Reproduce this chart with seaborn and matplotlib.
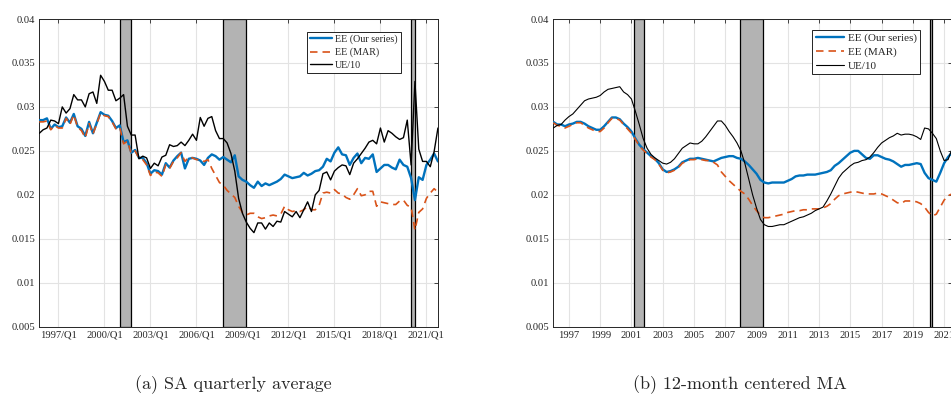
import matplotlib
matplotlib.use("Agg")
import matplotlib.pyplot as plt
import numpy as np
import pandas as pd
import seaborn as sns

# ---------------- data ----------------
# (a) SA quarterly average : 1995Q4 .. 2021Q4 (decimal year, Q1 = .00)
q_start = 1995.75
ee_ours_q = [0.0285, 0.0285, 0.0287, 0.0275, 0.0280, 0.0277, 0.0278, 0.0288, 0.0282, 0.0292,
             0.0278, 0.0275, 0.0267, 0.0283, 0.0270, 0.0282, 0.0294, 0.0291, 0.0290, 0.0284,
             0.0276, 0.0279, 0.0260, 0.0262, 0.0248, 0.0251, 0.0242, 0.0242, 0.0236, 0.0224,
             0.0228, 0.0227, 0.0223, 0.0236, 0.0231, 0.0239, 0.0244, 0.0248, 0.0230, 0.0241,
             0.0242, 0.0241, 0.0239, 0.0234, 0.0242, 0.0246, 0.0244, 0.0240, 0.0243, 0.0240,
             0.0237, 0.0245, 0.0221, 0.0217, 0.0215, 0.0211, 0.0208, 0.0215, 0.0210, 0.0213,
             0.0211, 0.0213, 0.0215, 0.0218, 0.0223, 0.0221, 0.0219, 0.0220, 0.0221, 0.0225,
             0.0222, 0.0224, 0.0227, 0.0228, 0.0232, 0.0241, 0.0238, 0.0248, 0.0254, 0.0246,
             0.0245, 0.0234, 0.0242, 0.0247, 0.0236, 0.0242, 0.0241, 0.0246, 0.0226, 0.0230,
             0.0234, 0.0234, 0.0231, 0.0229, 0.0240, 0.0234, 0.0232, 0.0219, 0.0194, 0.0220,
             0.0217, 0.0234, 0.0240, 0.0247, 0.0238]
ee_mar_q = [0.0283, 0.0283, 0.0284, 0.0274, 0.0279, 0.0276, 0.0276, 0.0287, 0.0280, 0.0291,
            0.0277, 0.0273, 0.0265, 0.0281, 0.0269, 0.0281, 0.0293, 0.0290, 0.0289, 0.0283,
            0.0275, 0.0277, 0.0258, 0.0261, 0.0247, 0.0250, 0.0242, 0.0240, 0.0234, 0.0222,
            0.0226, 0.0225, 0.0221, 0.0234, 0.0230, 0.0238, 0.0242, 0.0248, 0.0238, 0.0243,
            0.0242, 0.0240, 0.0240, 0.0238, 0.0240, 0.0230, 0.0222, 0.0214, 0.0211, 0.0205,
            0.0201, 0.0197, 0.0187, 0.0180, 0.0177, 0.0179, 0.0179, 0.0175, 0.0173, 0.0174,
            0.0176, 0.0177, 0.0176, 0.0178, 0.0187, 0.0183, 0.0181, 0.0182, 0.0181, 0.0183,
            0.0187, 0.0183, 0.0183, 0.0188, 0.0202, 0.0203, 0.0202, 0.0206, 0.0202, 0.0201,
            0.0197, 0.0195, 0.0200, 0.0207, 0.0199, 0.0200, 0.0204, 0.0204, 0.0187, 0.0192,
            0.0191, 0.0190, 0.0189, 0.0189, 0.0193, 0.0194, 0.0188, 0.0186, 0.0160, 0.0180,
            0.0184, 0.0196, 0.0202, 0.0207, 0.0203]
ue10_q = [0.0270, 0.0274, 0.0276, 0.0285, 0.0284, 0.0281, 0.0300, 0.0293, 0.0298, 0.0314,
          0.0308, 0.0308, 0.0300, 0.0315, 0.0317, 0.0304, 0.0336, 0.0329, 0.0319, 0.0319,
          0.0307, 0.0310, 0.0314, 0.0278, 0.0268, 0.0268, 0.0241, 0.0244, 0.0242, 0.0230,
          0.0236, 0.0233, 0.0243, 0.0245, 0.0257, 0.0255, 0.0256, 0.0260, 0.0256, 0.0262,
          0.0269, 0.0262, 0.0288, 0.0278, 0.0287, 0.0289, 0.0273, 0.0264, 0.0264, 0.0259,
          0.0247, 0.0227, 0.0196, 0.0179, 0.0169, 0.0162, 0.0157, 0.0168, 0.0168, 0.0161,
          0.0168, 0.0164, 0.0170, 0.0169, 0.0181, 0.0178, 0.0175, 0.0181, 0.0174, 0.0183,
          0.0192, 0.0181, 0.0200, 0.0205, 0.0224, 0.0226, 0.0217, 0.0227, 0.0231, 0.0234,
          0.0233, 0.0223, 0.0236, 0.0241, 0.0247, 0.0253, 0.0260, 0.0262, 0.0258, 0.0276,
          0.0260, 0.0273, 0.0270, 0.0266, 0.0263, 0.0265, 0.0285, 0.0234, 0.0329, 0.0252,
          0.0238, 0.0238, 0.0232, 0.0249, 0.0276]

# (b) 12-month centered MA : sampled quarterly from 1996.00 to 2021.50
ma_start = 1996.0
ee_ours_ma = [0.0283, 0.0280, 0.0280, 0.0278, 0.0280, 0.0281, 0.0283, 0.0283, 0.0281, 0.0278,
              0.0276, 0.0274, 0.0274, 0.0278, 0.0283, 0.0288, 0.0288, 0.0286, 0.0281, 0.0277,
              0.0272, 0.0264, 0.0257, 0.0252, 0.0248, 0.0244, 0.0241, 0.0236, 0.0229, 0.0226,
              0.0227, 0.0229, 0.0232, 0.0237, 0.0239, 0.0241, 0.0241, 0.0242, 0.0241, 0.0240,
              0.0239, 0.0238, 0.0240, 0.0242, 0.0243, 0.0244, 0.0244, 0.0242, 0.0241, 0.0238,
              0.0234, 0.0229, 0.0224, 0.0217, 0.0214, 0.0213, 0.0214, 0.0214, 0.0214, 0.0214,
              0.0216, 0.0218, 0.0221, 0.0222, 0.0222, 0.0223, 0.0223, 0.0223, 0.0224, 0.0225,
              0.0226, 0.0228, 0.0233, 0.0236, 0.0240, 0.0244, 0.0248, 0.0250, 0.0250, 0.0246,
              0.0242, 0.0241, 0.0245, 0.0245, 0.0243, 0.0241, 0.0240, 0.0238, 0.0235, 0.0232,
              0.0234, 0.0234, 0.0235, 0.0236, 0.0235, 0.0225, 0.0219, 0.0217, 0.0215, 0.0225,
              0.0236, 0.0243, 0.0248]
ee_mar_ma = [0.0282, 0.0279, 0.0278, 0.0276, 0.0278, 0.0280, 0.0282, 0.0282, 0.0279, 0.0276,
             0.0274, 0.0272, 0.0272, 0.0276, 0.0282, 0.0287, 0.0287, 0.0285, 0.0280, 0.0275,
             0.0270, 0.0263, 0.0256, 0.0251, 0.0247, 0.0243, 0.0240, 0.0235, 0.0228, 0.0225,
             0.0226, 0.0228, 0.0231, 0.0236, 0.0238, 0.0240, 0.0240, 0.0241, 0.0240, 0.0239,
             0.0239, 0.0237, 0.0234, 0.0226, 0.0221, 0.0216, 0.0212, 0.0208, 0.0204, 0.0201,
             0.0195, 0.0188, 0.0182, 0.0177, 0.0174, 0.0174, 0.0175, 0.0176, 0.0177, 0.0178,
             0.0180, 0.0181, 0.0182, 0.0182, 0.0183, 0.0183, 0.0184, 0.0184, 0.0184, 0.0185,
             0.0187, 0.0190, 0.0195, 0.0199, 0.0201, 0.0202, 0.0203, 0.0204, 0.0203, 0.0202,
             0.0201, 0.0201, 0.0201, 0.0202, 0.0201, 0.0199, 0.0197, 0.0194, 0.0191, 0.0190,
             0.0193, 0.0193, 0.0193, 0.0192, 0.0190, 0.0186, 0.0180, 0.0176, 0.0178, 0.0186,
             0.0194, 0.0199, 0.0201]
ue10_ma = [0.0276, 0.0279, 0.0280, 0.0285, 0.0289, 0.0292, 0.0297, 0.0302, 0.0307, 0.0309,
           0.0310, 0.0311, 0.0313, 0.0317, 0.0320, 0.0321, 0.0322, 0.0323, 0.0317, 0.0314,
           0.0309, 0.0295, 0.0280, 0.0264, 0.0253, 0.0246, 0.0242, 0.0239, 0.0236, 0.0235,
           0.0237, 0.0241, 0.0247, 0.0253, 0.0256, 0.0259, 0.0258, 0.0258, 0.0261, 0.0266,
           0.0272, 0.0278, 0.0284, 0.0284, 0.0279, 0.0272, 0.0266, 0.0259, 0.0250, 0.0236,
           0.0218, 0.0200, 0.0185, 0.0172, 0.0166, 0.0164, 0.0164, 0.0165, 0.0166, 0.0166,
           0.0168, 0.0170, 0.0172, 0.0174, 0.0175, 0.0177, 0.0179, 0.0182, 0.0184, 0.0186,
           0.0193, 0.0201, 0.0210, 0.0219, 0.0225, 0.0229, 0.0233, 0.0236, 0.0237, 0.0239,
           0.0240, 0.0243, 0.0248, 0.0254, 0.0259, 0.0262, 0.0265, 0.0267, 0.0270, 0.0268,
           0.0269, 0.0269, 0.0268, 0.0266, 0.0263, 0.0276, 0.0275, 0.0270, 0.0264, 0.0250,
           0.0239, 0.0240, 0.0252]

recessions_q = [(2001.0, 2001.75), (2007.75, 2009.25), (2020.0, 2020.25)]
recessions_m = [(2001.167, 2001.833), (2007.917, 2009.417), (2020.083, 2020.25)]

xticks_q = [1997, 2000, 2003, 2006, 2009, 2012, 2015, 2018, 2021]
xticklabels_q = ["1997/Q1", "2000/Q1", "2003/Q1", "2006/Q1", "2009/Q1",
                 "2012/Q1", "2015/Q1", "2018/Q1", "2021/Q1"]
xticks_m = [1997, 1999, 2001, 2003, 2005, 2007, 2009, 2011, 2013, 2015, 2017, 2019, 2021]
xticklabels_m = [str(y) for y in xticks_m]
yticks = [0.005, 0.01, 0.015, 0.02, 0.025, 0.03, 0.035, 0.04]
yticklabels = ["0.005", "0.01", "0.015", "0.02", "0.025", "0.03", "0.035", "0.04"]

labels = ["EE (Our series)", "EE (MAR)", "UE/10"]
captions = ["(a) SA quarterly average", "(b) 12-month centered MA"]

# ---------------- style ----------------
sns.set_style("white")
plt.rcParams["font.family"] = ["Liberation Serif", "DejaVu Serif"]
BLUE = "#0072BD"
ORANGE = "#D95319"
DARK = "#262626"

xq = q_start + 0.25 * np.arange(len(ee_ours_q))
xm = ma_start + 0.25 * np.arange(len(ee_ours_ma))
df_q = pd.DataFrame({"x": xq, "ours": ee_ours_q, "mar": ee_mar_q, "ue": ue10_q})
df_m = pd.DataFrame({"x": xm, "ours": ee_ours_ma, "mar": ee_mar_ma, "ue": ue10_ma})

fig = plt.figure(figsize=(9.51, 4.01), dpi=100)
axL = fig.add_axes([0.0413, 0.1853, 0.4192, 0.7673])
axR = fig.add_axes([0.5818, 0.1853, 0.4192, 0.7673])


def draw(ax, df, rec, xlim, xticks, xticklabels, ue_lw, leg_anchor, handlelength, legsize):
    for a, b in rec:
        ax.axvspan(a, b, facecolor="#b3b3b3", edgecolor="black", linewidth=0.9, zorder=1.5)
    sns.lineplot(data=df, x="x", y="ours", ax=ax, color=BLUE, linewidth=1.7,
                 label=labels[0], estimator=None, sort=False, zorder=3)
    sns.lineplot(data=df, x="x", y="mar", ax=ax, color=ORANGE, linewidth=1.2,
                 linestyle=(0, (4.5, 3.0)), label=labels[1], estimator=None, sort=False, zorder=3)
    sns.lineplot(data=df, x="x", y="ue", ax=ax, color="black", linewidth=ue_lw,
                 label=labels[2], estimator=None, sort=False, zorder=3.2)
    ax.set_xlim(*xlim)
    ax.set_ylim(0.005, 0.04)
    ax.set_xticks(xticks)
    ax.set_xticklabels(xticklabels)
    ax.set_yticks(yticks)
    ax.set_yticklabels(yticklabels)
    ax.set_xlabel("")
    ax.set_ylabel("")
    ax.set_axisbelow(True)
    ax.grid(True, color="#e3e3e3", linewidth=0.8)
    ax.tick_params(direction="in", length=3, width=0.6, top=True, right=True,
                   colors=DARK, labelsize=7.6, pad=3)
    for s in ax.spines.values():
        s.set_color(DARK)
        s.set_linewidth(0.7)
        s.set_visible(True)
    leg = ax.legend(loc="upper right", bbox_to_anchor=leg_anchor, frameon=True,
                    fancybox=False, framealpha=1, edgecolor="black", fontsize=legsize,
                    handlelength=handlelength, handletextpad=0.3, borderpad=0.3,
                    labelspacing=0.35, borderaxespad=0)
    leg.get_frame().set_linewidth(0.6)


draw(axL, df_q, recessions_q, (1995.75, 2021.75), xticks_q, xticklabels_q, 1.0,
     (0.907, 0.959), 2.2, 7.2)
draw(axR, df_m, recessions_m, (1996.0, 2021.5), xticks_m, xticklabels_m, 0.8,
     (0.92, 0.964), 2.6, 8.0)

fig.text(233 / 951, 0.04, captions[0], fontfamily="cmr10", fontsize=13,
         ha="center", va="center")
fig.text(740 / 951, 0.04, captions[1], fontfamily="cmr10", fontsize=13,
         ha="center", va="center")

fig.savefig("out.png", dpi=100)
